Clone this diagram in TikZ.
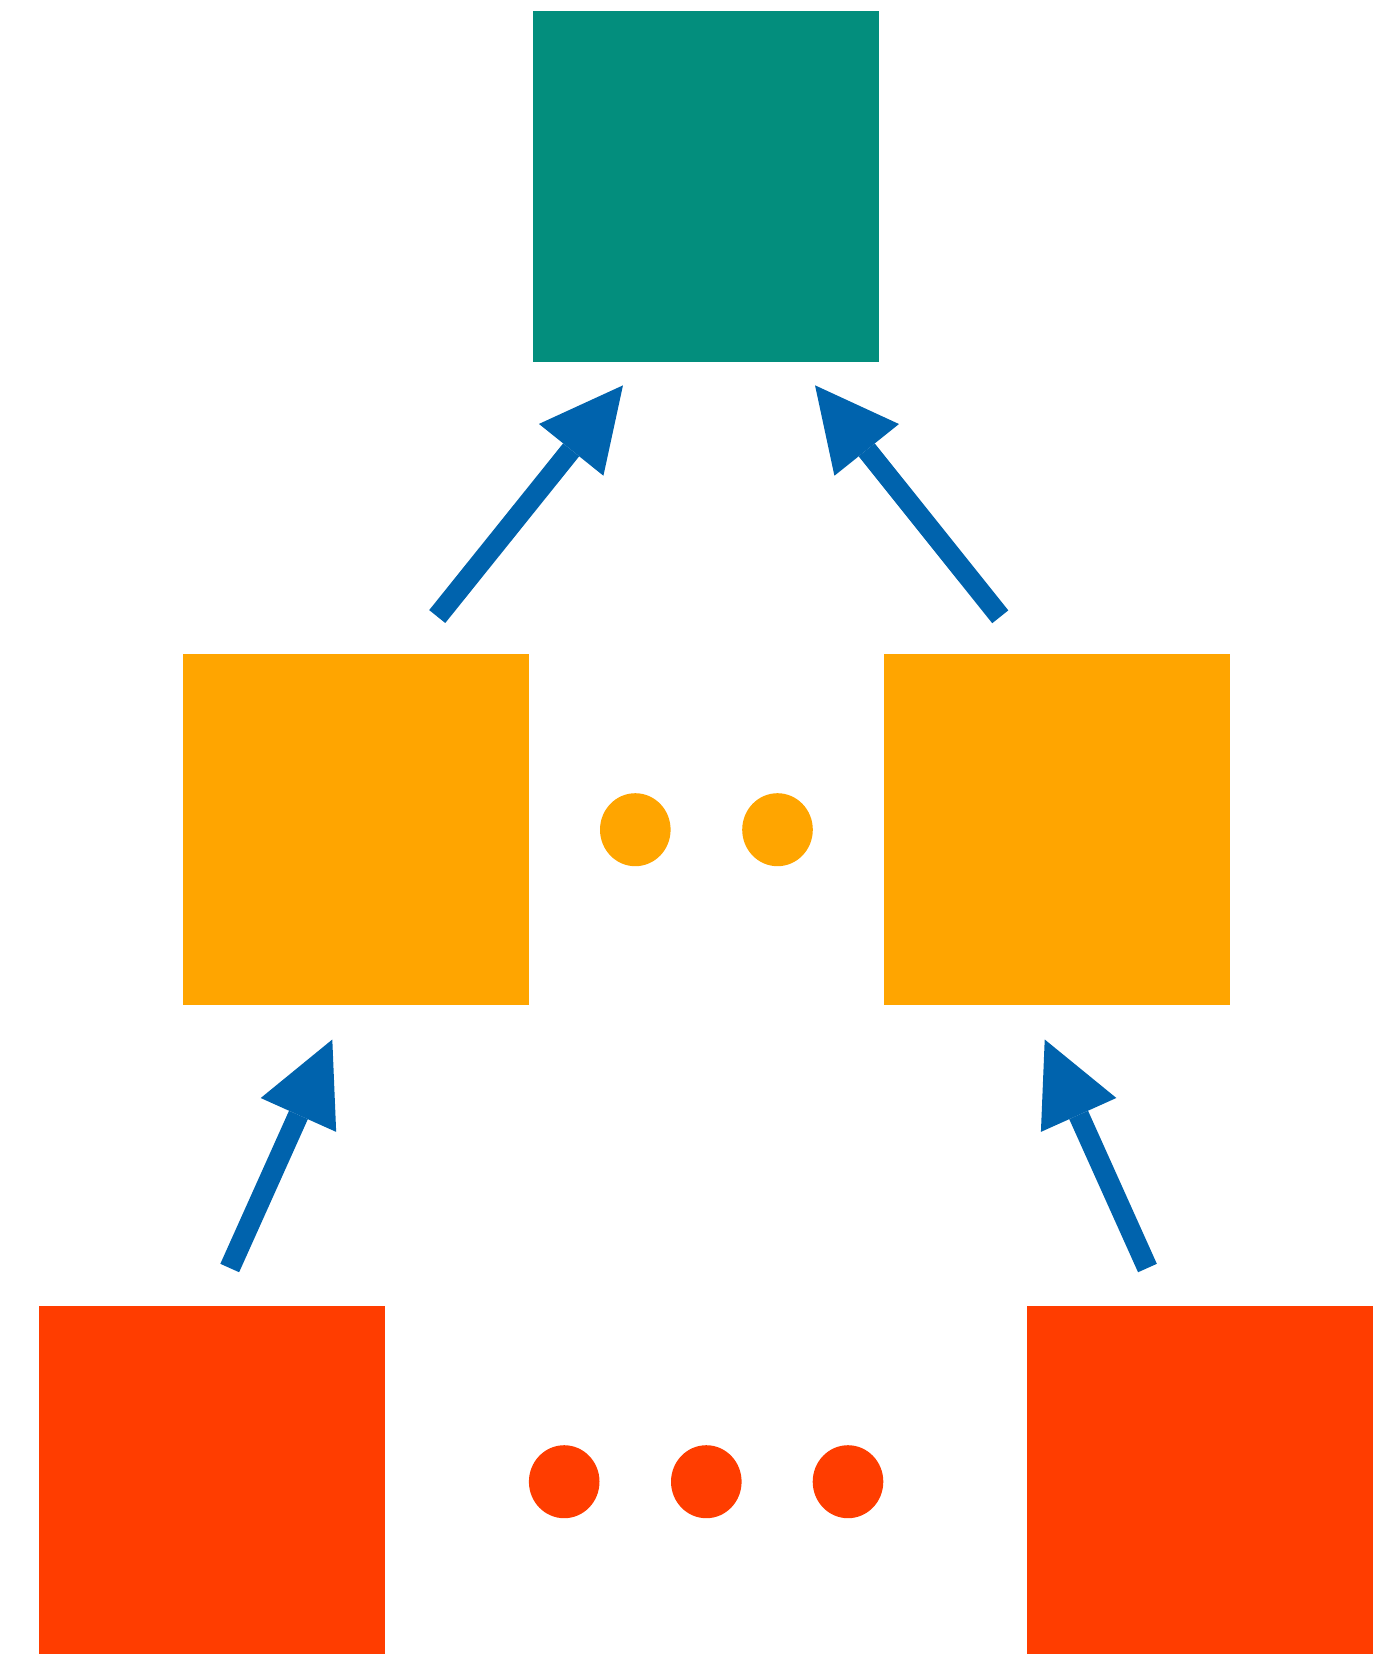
\documentclass[tikz,border=0pt]{standalone}
\usetikzlibrary{arrows.meta,shapes.geometric}
\definecolor{tealc}{RGB}{3,142,125}
\definecolor{orangec}{RGB}{255,165,0}
\definecolor{redc}{RGB}{255,61,0}
\definecolor{bluec}{RGB}{0,99,173}
\tikzset{
  box/.style={rectangle, inner sep=0pt, minimum width=346pt, minimum height=351pt, draw=none},
  dot/.style={ellipse, inner sep=0pt, minimum width=70.6pt, minimum height=73pt, draw=none},
  arr/.style={draw=bluec, line width=20.6pt, line cap=butt,
    -{Triangle[length=82.7pt,width=82.7pt,line width=0pt]}},
}
\begin{document}
\begin{tikzpicture}[x=1pt,y=-1pt]
\useasboundingbox (0,0) rectangle (1398,1654);
\node[box, fill=tealc] (top) at (706,186.35) {};
\node[box, fill=orangec] (ml) at (355.5,829.5) {};
\node[box, fill=orangec] (mr) at (1057,829.5) {};
\node[box, fill=redc] (bl) at (212,1481.2) {};
\node[box, fill=redc] (br) at (1200.4,1481.2) {};
\node[dot, fill=orangec] (od1) at (635.3,829.7) {};
\node[dot, fill=orangec] (od2) at (777.5,829.7) {};
\node[dot, fill=redc] (rd1) at (564.2,1481.7) {};
\node[dot, fill=redc] (rd2) at (706.3,1481.7) {};
\node[dot, fill=redc] (rd3) at (848,1481.7) {};
\draw[arr, shorten <=47.8pt, shorten >=29.9pt] ([xshift=51.8pt]ml.north) -- ([xshift=-64.3pt]top.south);
\draw[arr, shorten <=47.4pt, shorten >=29.8pt] ([xshift=-27.1pt]mr.north) -- ([xshift=90.4pt]top.south);
\draw[arr, shorten <=41.1pt, shorten >=37.6pt] ([xshift=0.9pt]bl.north) -- ([xshift=-7.8pt]ml.south);
\draw[arr, shorten <=41.1pt, shorten >=37.6pt] ([xshift=-36.1pt]br.north) -- ([xshift=-27.7pt]mr.south);
\end{tikzpicture}
\end{document}
